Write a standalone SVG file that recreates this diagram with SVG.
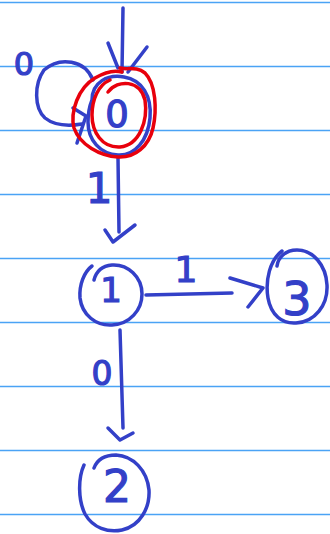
<svg xmlns="http://www.w3.org/2000/svg" width="330" height="534" viewBox="0 0 330 534">
<style>
.rule{stroke:#4aa3f5;stroke-width:1.5}
.ink{fill:none;stroke:#3340c8;stroke-width:3.5;stroke-linecap:round;stroke-linejoin:round}
.red{fill:none;stroke:#e8000c;stroke-width:3.5;stroke-linecap:round;stroke-linejoin:round}
.lbl{font-family:"DejaVu Sans","Liberation Sans",sans-serif;fill:#3340c8;stroke:#3340c8;stroke-width:1.2;text-anchor:middle}
</style>
<rect width="330" height="534" fill="#ffffff"/>
<g id="paper">
<line class="rule" x1="0" y1="2.5" x2="330" y2="2.5"/>
<line class="rule" x1="0" y1="66.5" x2="330" y2="66.5"/>
<line class="rule" x1="0" y1="130.5" x2="330" y2="130.5"/>
<line class="rule" x1="0" y1="194.5" x2="330" y2="194.5"/>
<line class="rule" x1="0" y1="258.5" x2="330" y2="258.5"/>
<line class="rule" x1="0" y1="322.5" x2="330" y2="322.5"/>
<line class="rule" x1="0" y1="386.5" x2="330" y2="386.5"/>
<line class="rule" x1="0" y1="450.5" x2="330" y2="450.5"/>
<line class="rule" x1="0" y1="514.5" x2="330" y2="514.5"/>
</g>
<g id="connectors">
<g id="start">
<path class="ink" d="M123 8 L122 72"/>
<path class="ink" d="M108 43 L118 68 M147 47 L128 72"/>
</g>
<g id="e00">
<path class="ink" d="M93 80 C85 60 60 56 44 70 C34 84 34 108 45 118 C55 126 70 126 82 124"/>
<path class="ink" d="M73 108 L86 116 L77 143"/>
<text class="lbl" x="24" y="75" font-size="32">0</text>
</g>
<g id="e01">
<path class="ink" d="M118 158 L119 232"/>
<path class="ink" d="M105 230 L113 242 L135 225"/>
<text class="lbl" x="99" y="203" font-size="42">1</text>
</g>
<g id="e13">
<path class="ink" d="M146 295 L232 293"/>
<path class="ink" d="M230 278 L263 288 L248 307"/>
<text class="lbl" x="186" y="282" font-size="36">1</text>
</g>
<g id="e12">
<path class="ink" d="M120 330 L123 428"/>
<path class="ink" d="M108 428 L120 440 L133 433"/>
<text class="lbl" x="102" y="385" font-size="33">0</text>
</g>
</g>
<g id="node0">
<path class="ink" d="M92 100 C92 82 108 74 124 77 C142 80 152 96 150 118 C148 140 135 156 118 155 C100 154 88 140 88 122 C88 112 90 105 92 100"/>
<path class="red" d="M120 68 C128 70 136 66 145 73 C156 84 157 110 153 128 C149 146 135 158 118 157 C100 156 80 145 74 128 C70 112 78 88 95 78 C105 72 115 70 122 72"/>
<path class="red" d="M108 92 C118 79 140 80 145 100 C148 120 140 145 120 147 C102 148 92 132 92 115 C92 100 98 85 110 80"/>
<text class="lbl" x="117" y="127" font-size="37">0</text>
</g>
<g id="node1">
<path class="ink" d="M92 266 C84 272 79 285 80 298 C82 315 96 326 112 325 C130 324 142 310 142 294 C142 277 128 264 112 265 C102 266 96 272 94 280"/>
<text class="lbl" x="111" y="302" font-size="34">1</text>
</g>
<g id="node3">
<path class="ink" d="M282 251 C270 260 265 280 268 298 C271 315 282 324 296 323 C315 322 328 305 327 285 C326 265 313 250 297 250 C285 250 278 258 277 266"/>
<text class="lbl" x="297" y="315" font-size="46">3</text>
</g>
<g id="node2">
<path class="ink" d="M84 465 C78 478 78 500 85 514 C93 528 108 533 122 530 C140 526 150 508 149 490 C147 470 133 456 116 455 C104 455 97 460 94 468"/>
<text class="lbl" x="117" y="502" font-size="44">2</text>
</g>
</svg>
